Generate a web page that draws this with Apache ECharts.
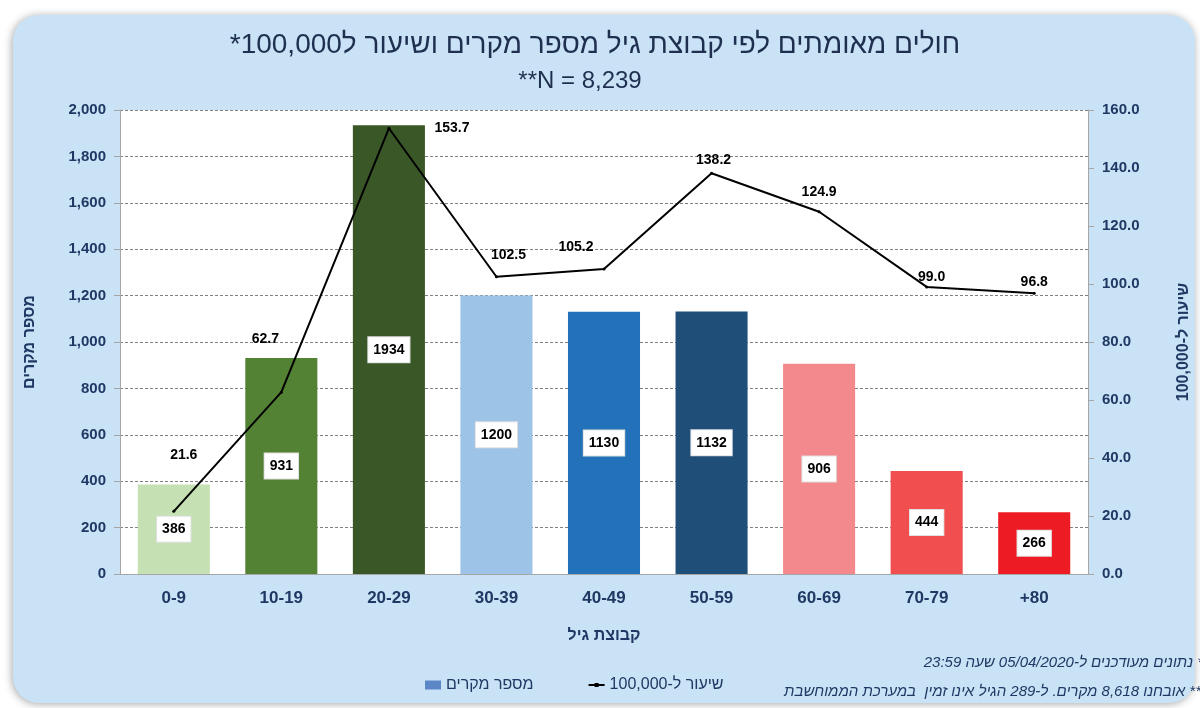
<!DOCTYPE html>
<html>
<head>
<meta charset="utf-8">
<script src="https://cdn.jsdelivr.net/npm/echarts@6/dist/echarts.min.js"></script>
<style>
  html, body { margin: 0; padding: 0; background: #fff; }
  #main { width: 1200px; height: 708px; }
</style>
</head>
<body>
<div id="main" dir="rtl"></div>
<script>
// קבוצות גיל
const ageGroups = ['0-9', '10-19', '20-29', '30-39', '40-49', '50-59', '60-69', '70-79', '+80'];
// מספר מקרים
const cases = [386, 931, 1934, 1200, 1130, 1132, 906, 444, 266];
// שיעור ל-100,000
const ratePer100k = [21.6, 62.7, 153.7, 102.5, 105.2, 138.2, 124.9, 99.0, 96.8];

const barColors = ['#C5E0B3', '#548235', '#3A5728', '#9DC3E6', '#2372B9', '#1F4E79', '#F4898D', '#F04E4F', '#ED1C24'];
// nudge of each rate label from its default spot above the point (null = put it right of the point)
const rateLabelOffsets = [[10, -43], [-16, -40], null, [12, -8], [-28, -8], [2, 0], [0, -6], [5, 4], [0, 2]];

const navy = '#1F3864';
const font = "'Liberation Sans', 'DejaVu Sans', sans-serif";
const LRM = '\u200E';

const chart = echarts.init(document.getElementById('main'));

chart.setOption({
  animation: false,
  textStyle: { fontFamily: font },
  graphic: [
    {
      type: 'rect',
      z: -100,
      silent: true,
      shape: { x: 13, y: 15, width: 1182, height: 688, r: 26 },
      style: { fill: '#C9E2F5', shadowBlur: 8, shadowColor: 'rgba(0,0,0,0.35)', shadowOffsetX: -1, shadowOffsetY: 1 }
    },
    {
      type: 'text',
      x: 1203, y: 663,
      style: {
        text: '* נתונים מעודכנים ל-05/04/2020 שעה 23:59',
        align: 'right', verticalAlign: 'middle',
        font: "italic 15px 'Liberation Sans', sans-serif", fill: navy
      }
    },
    {
      type: 'text',
      x: 1201, y: 692,
      style: {
        text: '** אובחנו 8,618 מקרים. ל-289 הגיל אינו זמין  במערכת הממוחשבת',
        align: 'right', verticalAlign: 'middle',
        font: "italic 15px 'Liberation Sans', sans-serif", fill: navy
      }
    }
  ],
  title: [
    {
      text: 'חולים מאומתים לפי קבוצת גיל מספר מקרים ושיעור ל100,000*',
      left: 590, top: 26, textAlign: 'center',
      textStyle: { fontSize: 28, fontWeight: 'normal', color: '#1F2F4F', fontFamily: font }
    },
    {
      text: 'N = 8,239**',
      left: 575, top: 64, textAlign: 'center',
      textStyle: { fontSize: 24, fontWeight: 'normal', color: '#1F2F4F', fontFamily: font }
    }
  ],
  legend: {
    left: 420, top: 672,
    itemGap: 55,
    itemWidth: 16, itemHeight: 9,
    textStyle: { fontSize: 16, color: navy, fontFamily: font },
    data: [
      { name: 'מספר מקרים', icon: 'rect' },
      { name: 'שיעור ל-100,000', icon: 'path://M0,4 L16,4 L16,6 L0,6 Z M6,3 L10,3 L10,7 L6,7 Z' }
    ]
  },
  grid: {
    left: 120, right: 110, top: 110, bottom: 134,
    show: true, backgroundColor: '#fff', borderWidth: 0
  },
  xAxis: {
    type: 'category',
    data: ageGroups,
    name: 'קבוצת גיל',
    nameLocation: 'middle',
    nameGap: 54,
    nameTextStyle: { fontSize: 16, fontWeight: 'bold', color: navy },
    axisLine: { lineStyle: { color: '#A6A6A6', width: 1 } },
    axisTick: { alignWithLabel: true, length: 6, lineStyle: { color: '#A6A6A6' } },
    axisLabel: { fontSize: 17, fontWeight: 'bold', color: navy, margin: 16, formatter: v => LRM + v }
  },
  yAxis: [
    {
      type: 'value',
      min: 0, max: 2000, interval: 200,
      name: 'מספר מקרים',
      nameLocation: 'middle',
      nameRotate: 90,
      nameGap: 82,
      nameTextStyle: { fontSize: 16, fontWeight: 'bold', color: navy },
      axisLine: { show: true, lineStyle: { color: '#A6A6A6' } },
      axisTick: { show: true, length: 6, lineStyle: { color: '#A6A6A6' } },
      axisLabel: {
        fontSize: 15, fontWeight: 'bold', color: navy, margin: 14,
        formatter: v => v.toLocaleString('en-US')
      },
      splitLine: { lineStyle: { color: '#808080', type: [3, 2], width: 1 } }
    },
    {
      type: 'value',
      min: 0, max: 160, interval: 20,
      name: 'שיעור ל-100,000',
      nameLocation: 'middle',
      nameRotate: 90,
      nameGap: 88,
      nameTextStyle: { fontSize: 16, fontWeight: 'bold', color: navy },
      axisLine: { show: true, lineStyle: { color: '#A6A6A6' } },
      axisTick: { show: true, length: 6, lineStyle: { color: '#A6A6A6' } },
      axisLabel: {
        fontSize: 15, fontWeight: 'bold', color: navy, margin: 14,
        formatter: v => v.toFixed(1)
      },
      splitLine: { show: false }
    }
  ],
  series: [
    {
      name: 'מספר מקרים',
      type: 'bar',
      barWidth: '67%',
      itemStyle: { color: '#5B87C7' },
      data: cases.map((v, i) => ({ value: v, itemStyle: { color: barColors[i] } })),
      label: {
        show: true,
        position: 'inside',
        color: '#000',
        fontSize: 14,
        fontWeight: 'bold',
        backgroundColor: '#fff',
        borderColor: '#E0E0E0',
        borderWidth: 1,
        padding: [6, 5, 5, 5]
      },
      z: 2
    },
    {
      name: 'שיעור ל-100,000',
      type: 'line',
      yAxisIndex: 1,
      symbol: 'circle',
      symbolSize: 3,
      lineStyle: { color: '#000', width: 2 },
      itemStyle: { color: '#000' },
      data: ratePer100k.map((v, i) => ({
        value: v,
        label: rateLabelOffsets[i] ? { position: 'top' } : { position: 'right', distance: 44 }
      })),
      label: {
        show: true,
        color: '#000',
        fontSize: 14,
        fontWeight: 'bold',
        formatter: p => p.value.toFixed(1)
      },
      labelLayout: p => {
        const off = rateLabelOffsets[p.dataIndex];
        return off ? { dx: off[0], dy: off[1], hideOverlap: false } : { hideOverlap: false };
      },
      z: 3
    }
  ]
});
</script>
</body>
</html>
